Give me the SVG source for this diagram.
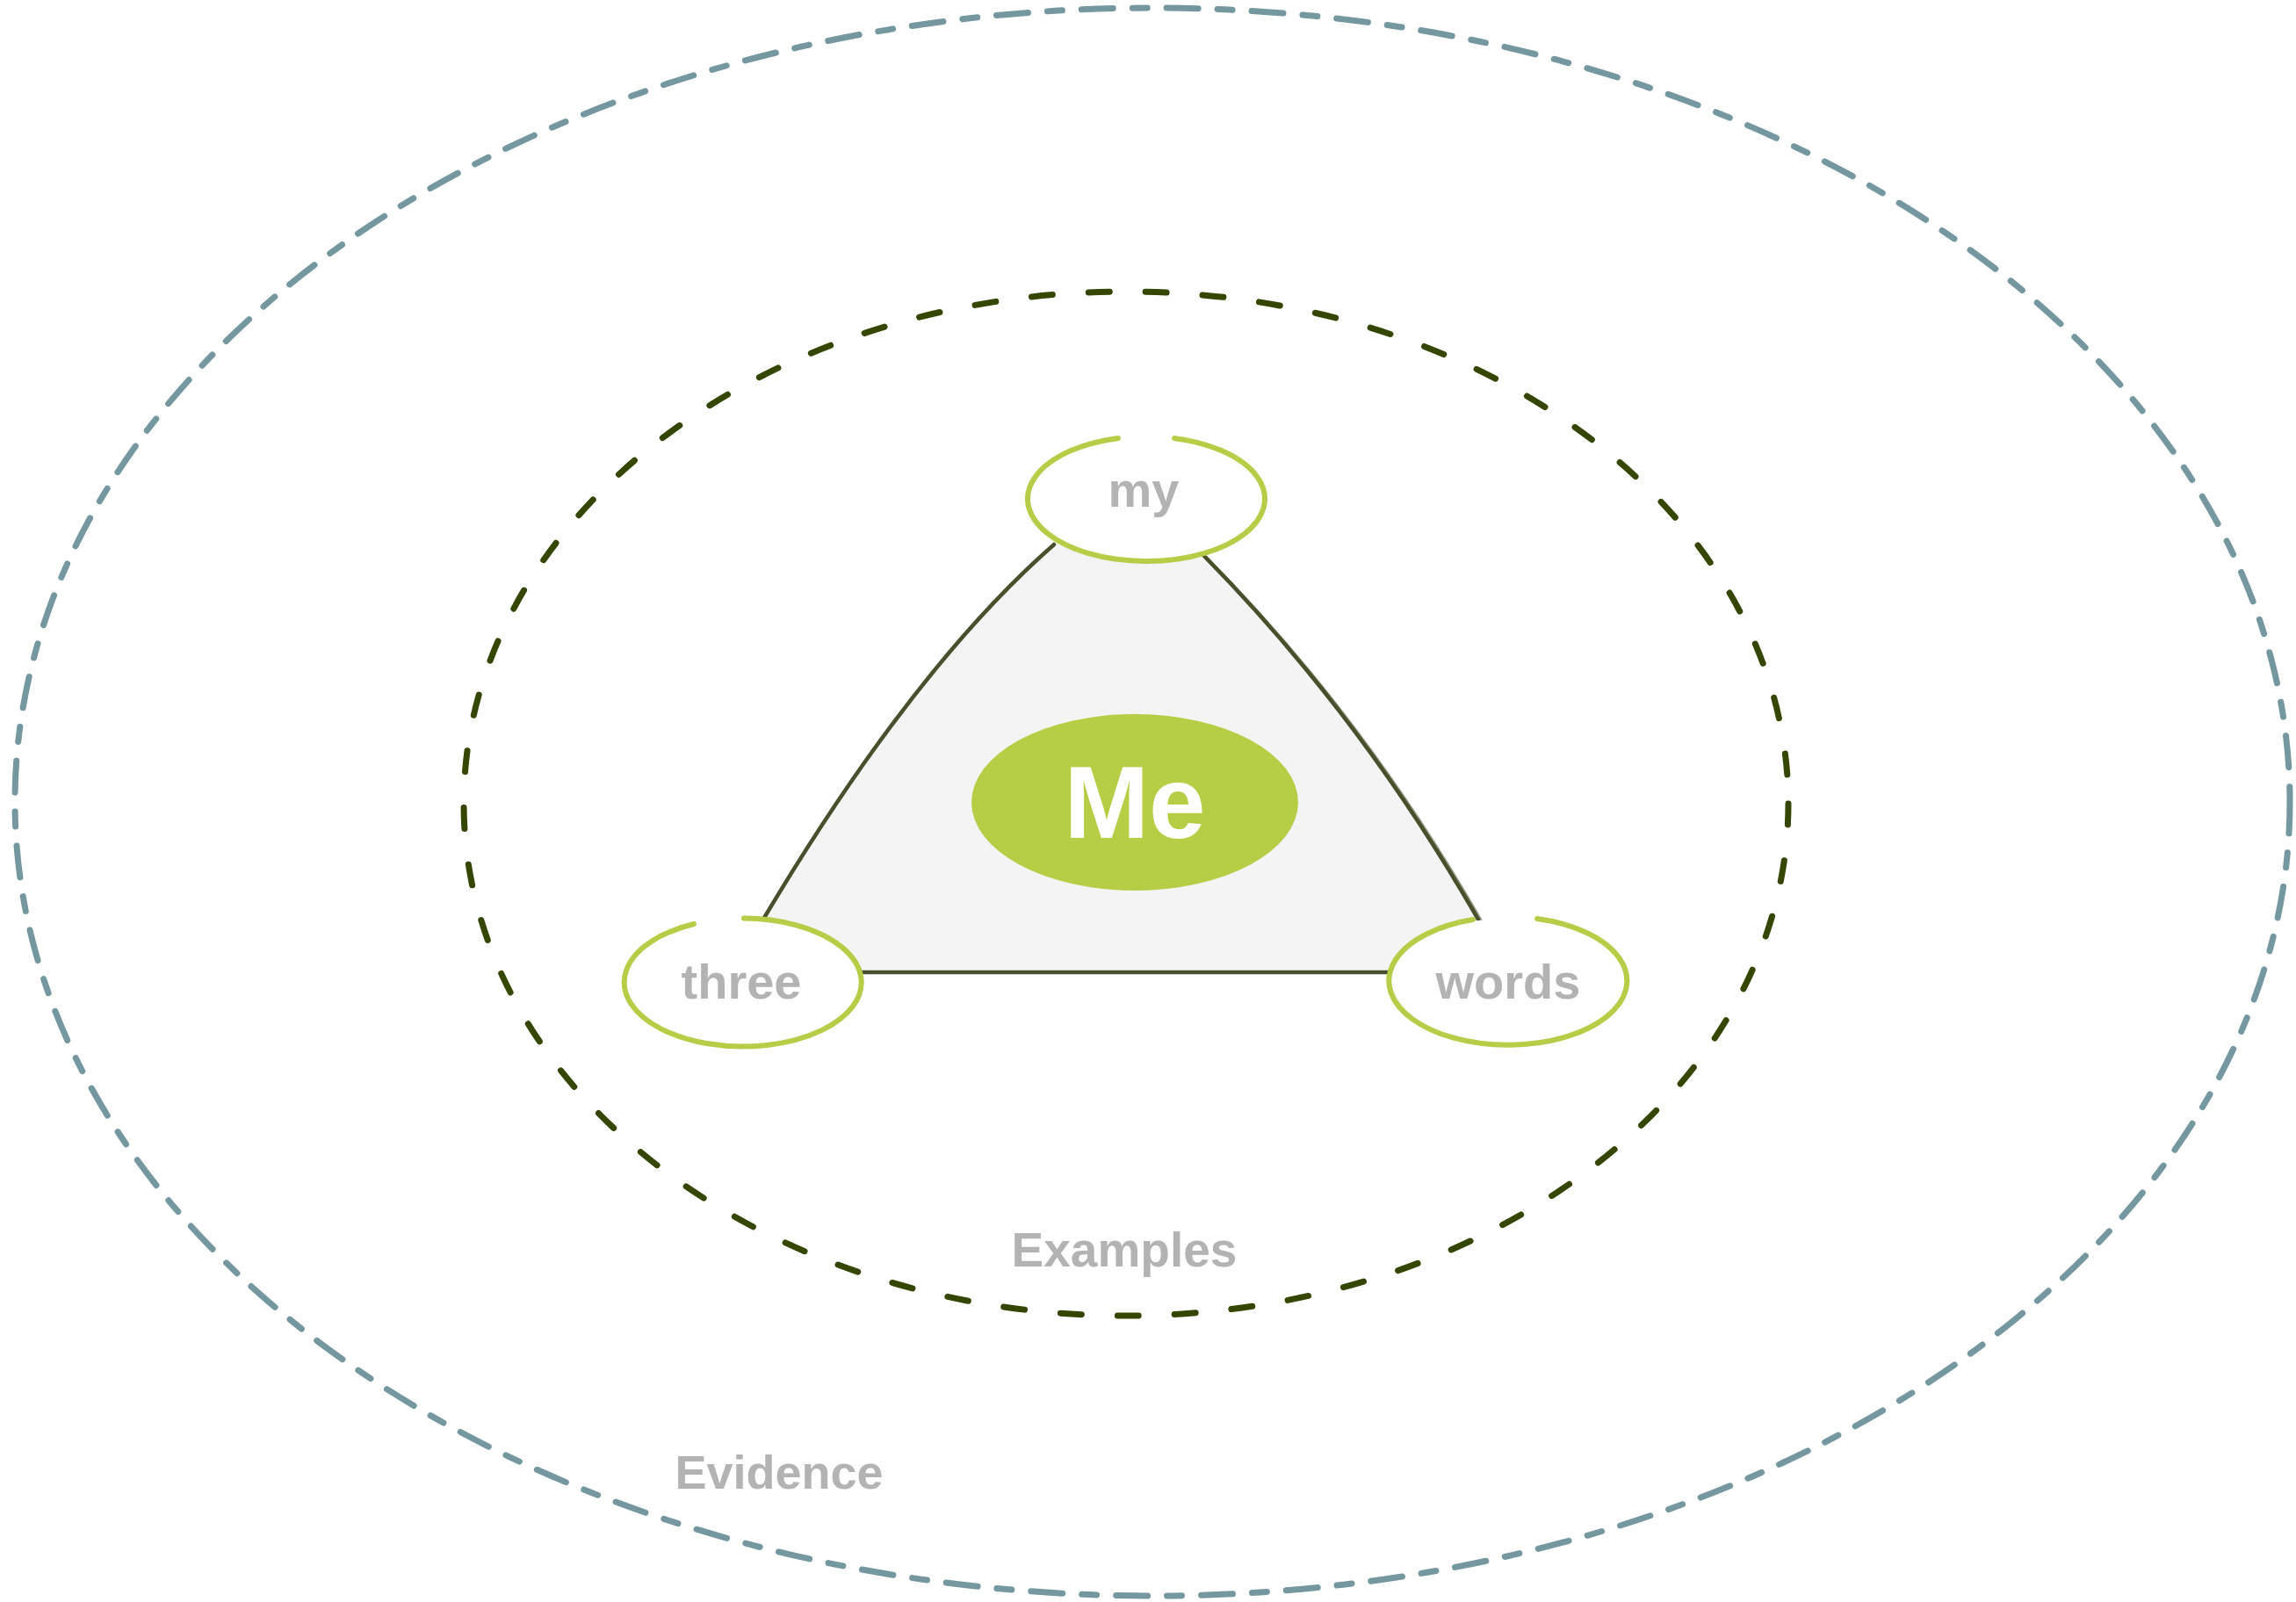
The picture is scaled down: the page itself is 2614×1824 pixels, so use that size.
<svg xmlns="http://www.w3.org/2000/svg" width="2614" height="1824" viewBox="0 0 2614 1824">
  <style>
    .lbl { font-family: "Liberation Sans", Arial, sans-serif; font-weight: bold; fill: #b3b3b3; text-anchor: middle; }
    .node { fill: #ffffff; stroke: none; }
    .ring { fill: none; stroke: #b6cd47; stroke-width: 6; stroke-linecap: round; }
    .side { fill: none; stroke: #46502c; stroke-width: 4.5; stroke-linecap: round; }
  </style>
  <rect width="2614" height="1824" fill="#ffffff"/>

  <g id="evidence">
    <ellipse cx="1312" cy="913" rx="1295" ry="904" fill="none" stroke="#7597a0" stroke-width="7" stroke-linecap="round" stroke-dasharray="36 22 17 22"/>
    <text class="lbl" x="887" y="1695" font-size="54">Evidence</text>
  </g>

  <g id="examples">
    <ellipse cx="1282" cy="915" rx="754" ry="583" fill="none" stroke="#344600" stroke-width="7" stroke-linecap="round" stroke-dasharray="24 41"/>
    <text class="lbl" x="1280" y="1442" font-size="55">Examples</text>
  </g>

  <g id="connectors">
    <path d="M1300,580 L1200,620 Q1040,760 870,1045 L844,1107 L1717,1107 L1683,1047 Q1550,815 1370,632 Z" fill="#f4f4f4" stroke="none"/>
    <path class="side" d="M1200,620 Q1040,760 870,1045"/>
    <path class="side" d="M1370,632 Q1550,815 1683,1047"/>
    <path class="side" d="M1374,636 Q1553,817 1686,1049" stroke-width="2" opacity="0.6"/>
    <path class="side" d="M960,1107 L1600,1107"/>
  </g>

  <g id="me">
    <ellipse cx="1292" cy="913.5" rx="186" ry="100.5" fill="#b5ce45"/>
    <text x="1292" y="954" font-size="116" font-family="Liberation Sans, Arial, sans-serif" font-weight="bold" fill="#ffffff" text-anchor="middle">Me</text>
  </g>

  <g id="my">
    <ellipse class="node" cx="1303" cy="568" rx="135" ry="71"/>
    <path class="ring" d="M1337,499 A135,71 0 1 1 1273,499"/>
    <text class="lbl" x="1302" y="577" font-size="56">my</text>
  </g>

  <g id="three">
    <ellipse class="node" cx="844.5" cy="1118.5" rx="135" ry="73"/>
    <path class="ring" d="M847,1045.5 A135,73 0 1 1 790,1052"/>
    <text class="lbl" x="844" y="1137" font-size="56">three</text>
  </g>

  <g id="words">
    <ellipse class="node" cx="1717.5" cy="1118.5" rx="135.5" ry="73"/>
    <path class="ring" d="M1750,1046 A135.5,73 0 1 1 1677,1047"/>
    <text class="lbl" x="1717" y="1137" font-size="56">words</text>
  </g>
</svg>
